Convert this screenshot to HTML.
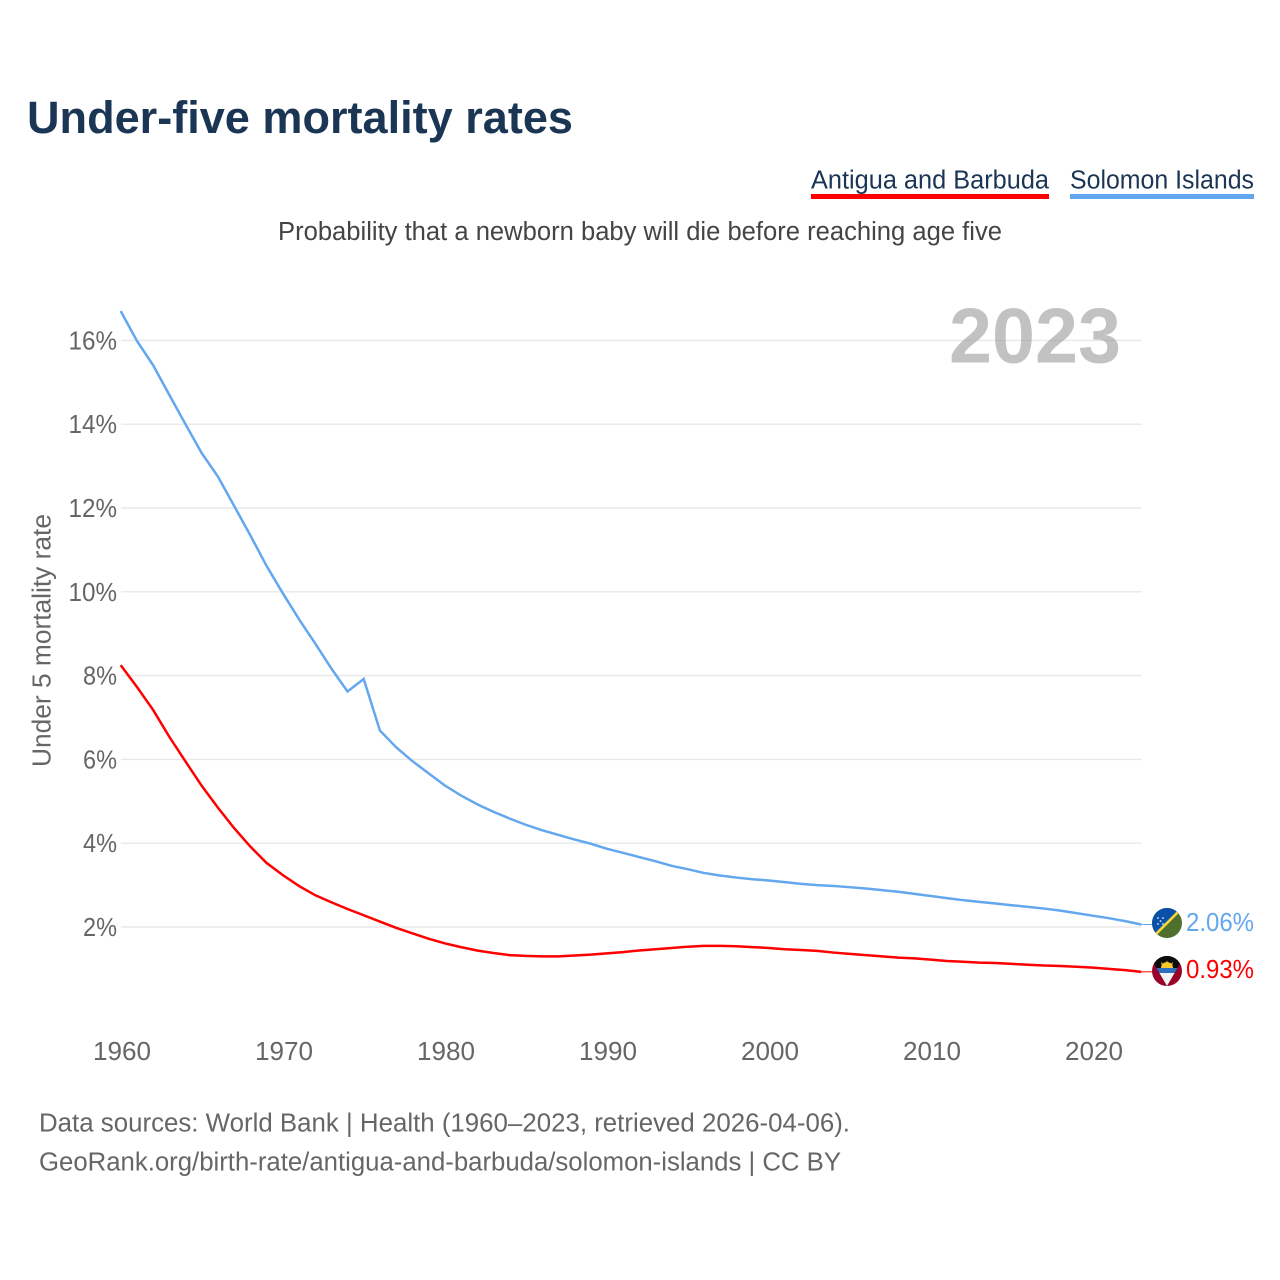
<!DOCTYPE html>
<html lang="en">
<head>
<meta charset="utf-8">
<title>Under-five mortality rates</title>
<style>
html,body{margin:0;padding:0;background:#fff;}
svg{display:block;}
text{font-family:"Liberation Sans",sans-serif;}
</style>
</head>
<body>
<svg id="chart" xmlns="http://www.w3.org/2000/svg" width="1280" height="1280" viewBox="0 0 1280 1280">
  <defs>
    <clipPath id="flag-clip-a"><circle cx="1167" cy="971" r="15"/></clipPath>
    <clipPath id="flag-clip-s"><circle cx="1167" cy="923" r="15"/></clipPath>
  </defs>
  <rect x="0" y="0" width="1280" height="1280" fill="#fff"/>
  <text x="27" y="133" font-size="45" font-weight="700" fill="#1b3555" textLength="546" lengthAdjust="spacingAndGlyphs">Under-five mortality rates</text>

  <text x="811" y="188.5" font-size="25.5" fill="#1b3555" textLength="238" lengthAdjust="spacingAndGlyphs">Antigua and Barbuda</text>
  <rect x="811" y="194" width="238" height="5" fill="#ff0000"/>
  <text x="1070" y="188.5" font-size="25.5" fill="#1b3555" textLength="184" lengthAdjust="spacingAndGlyphs">Solomon Islands</text>
  <rect x="1070" y="194" width="184" height="5" fill="#63a7ee"/>

  <text x="278" y="240" font-size="25.5" fill="#444" textLength="724" lengthAdjust="spacingAndGlyphs">Probability that a newborn baby will die before reaching age five</text>

  <g id="grid"></g>
  <text x="949" y="362.5" font-size="78" font-weight="700" fill="#999" fill-opacity="0.6" textLength="172" lengthAdjust="spacingAndGlyphs">2023</text>
  <g id="y-labels"></g>
  <g id="x-labels"></g>
  <text transform="translate(50.5,767) rotate(-90)" font-size="25.5" fill="#666" textLength="253" lengthAdjust="spacingAndGlyphs">Under 5 mortality rate</text>
  <g id="series"></g>

  <g clip-path="url(#flag-clip-s)">
    <rect x="1152" y="908" width="30" height="30" fill="#4f702d"/>
    <polygon points="1152,908 1182,908 1152,938" fill="#0a50a8"/>
    <line x1="1152" y1="938" x2="1182" y2="908" stroke="#f5d63a" stroke-width="2.6"/>
    <circle cx="1158" cy="918" r="0.9" fill="#dfe8f5"/>
    <circle cx="1163" cy="918" r="0.9" fill="#dfe8f5"/>
    <circle cx="1160.5" cy="921" r="0.9" fill="#dfe8f5"/>
    <circle cx="1158" cy="924" r="0.9" fill="#dfe8f5"/>
    <circle cx="1163" cy="924" r="0.9" fill="#dfe8f5"/>
  </g>
  <g clip-path="url(#flag-clip-a)">
    <rect x="1152" y="956" width="30" height="30" fill="#98032a"/>
    <polygon points="1152,956 1182,956 1181,962 1167,986 1153,962" fill="#0c0c0c"/>
    <path d="M1161 968 a6 6 0 0 1 12 0z" fill="#f5c92c"/>
    <polygon points="1167,960.5 1168.5,964 1165.5,964" fill="#f5c92c"/>
    <polygon points="1161,962 1164,964.5 1162,966" fill="#f5c92c"/>
    <polygon points="1173,962 1170,964.5 1172,966" fill="#f5c92c"/>
    <polygon points="1156.5,968 1177.5,968 1174.6,973 1159.4,973" fill="#2f6fc0"/>
    <polygon points="1159.4,973 1174.6,973 1167,986" fill="#f4f4f4"/>
  </g>

  <text x="1186" y="931" font-size="25.5" fill="#63a7ee" textLength="68" lengthAdjust="spacingAndGlyphs">2.06%</text>
  <text x="1186" y="978" font-size="25.5" fill="#ff0000" textLength="68" lengthAdjust="spacingAndGlyphs">0.93%</text>

  <text x="39" y="1131.5" font-size="25.5" fill="#666" textLength="811" lengthAdjust="spacingAndGlyphs">Data sources: World Bank | Health (1960–2023, retrieved 2026-04-06).</text>
  <text x="39" y="1170.5" font-size="25.5" fill="#666" textLength="802" lengthAdjust="spacingAndGlyphs">GeoRank.org/birth-rate/antigua-and-barbuda/solomon-islands | CC BY</text>
</svg>
<script>
const startYear = 1960;
const yTickValues = [2, 4, 6, 8, 10, 12, 14, 16];
const yTickLabels = ["2%", "4%", "6%", "8%", "10%", "12%", "14%", "16%"];
const xTickValues = [1960, 1970, 1980, 1990, 2000, 2010, 2020];
const xTickLabels = ["1960", "1970", "1980", "1990", "2000", "2010", "2020"];
const solomonValues = [
  16.70, 15.99, 15.41, 14.70, 14.00, 13.31, 12.75, 12.05, 11.35, 10.62,
  9.97, 9.35, 8.77, 8.17, 7.62, 7.92, 6.69, 6.29, 5.96, 5.67,
  5.38, 5.14, 4.93, 4.75, 4.59, 4.44, 4.31, 4.20, 4.09, 3.99,
  3.87, 3.77, 3.67, 3.57, 3.46, 3.38, 3.29, 3.23, 3.18, 3.14,
  3.11, 3.07, 3.03, 3.00, 2.98, 2.95, 2.92, 2.88, 2.84, 2.79,
  2.74, 2.69, 2.64, 2.60, 2.56, 2.52, 2.48, 2.44, 2.39, 2.33,
  2.27, 2.21, 2.14, 2.06
];
const antiguaValues = [
  8.25, 7.73, 7.18, 6.54, 5.95, 5.37, 4.85, 4.36, 3.92, 3.53,
  3.24, 2.98, 2.76, 2.59, 2.43, 2.28, 2.13, 1.98, 1.85, 1.72,
  1.61, 1.52, 1.44, 1.38, 1.33, 1.31, 1.30, 1.30, 1.32, 1.34,
  1.37, 1.40, 1.44, 1.47, 1.50, 1.53, 1.55, 1.55, 1.54, 1.52,
  1.50, 1.47, 1.45, 1.43, 1.39, 1.36, 1.33, 1.30, 1.27, 1.25,
  1.22, 1.19, 1.17, 1.15, 1.14, 1.12, 1.10, 1.08, 1.07, 1.05,
  1.03, 1.00, 0.97, 0.93
];

const SVG_NS = "http://www.w3.org/2000/svg";
function xScale(year) { return 120.7 + (year - 1960) * 16.2; }
function yScale(value) { return 1010.8 - value * 41.9; }

const gridGroup = document.getElementById("grid");
const yLabelGroup = document.getElementById("y-labels");
const xLabelGroup = document.getElementById("x-labels");
const seriesGroup = document.getElementById("series");

yTickValues.forEach(function (value, i) {
  const line = document.createElementNS(SVG_NS, "line");
  
  
  line.setAttribute("x1", 121);
  line.setAttribute("x2", 1141.5);
  line.setAttribute("y1", yScale(value));
  line.setAttribute("y2", yScale(value));
  line.setAttribute("stroke", "#e8e8e8");
  line.setAttribute("stroke-width", "1.4");
  gridGroup.appendChild(line);

  const label = document.createElementNS(SVG_NS, "text");
  
  
  label.setAttribute("x", 117);
  label.setAttribute("y", yScale(value) + 9);
  label.setAttribute("text-anchor", "end");
  label.setAttribute("font-size", "25.5");
  label.setAttribute("fill", "#666");
  label.textContent = yTickLabels[i];
  label.setAttribute("textLength", (yTickLabels[i].length - 1) * 14.5 + 19.5);
  label.setAttribute("lengthAdjust", "spacingAndGlyphs");
  yLabelGroup.appendChild(label);
});

xTickValues.forEach(function (year, i) {
  const label = document.createElementNS(SVG_NS, "text");
  
  
  label.setAttribute("x", xScale(year) + 1.3);
  label.setAttribute("y", 1060);
  label.setAttribute("text-anchor", "middle");
  label.setAttribute("font-size", "25.5");
  label.setAttribute("fill", "#666");
  label.textContent = xTickLabels[i];
  label.setAttribute("textLength", "58");
  label.setAttribute("lengthAdjust", "spacingAndGlyphs");
  xLabelGroup.appendChild(label);
});

function pathFor(values) {
  return values.map(function (value, i) {
    return (i === 0 ? "M" : "L") + xScale(startYear + i).toFixed(2) + " " + yScale(value).toFixed(2);
  }).join(" ");
}

const solomonLine = document.createElementNS(SVG_NS, "path");


solomonLine.setAttribute("d", pathFor(solomonValues));
solomonLine.setAttribute("fill", "none");
solomonLine.setAttribute("stroke", "#63a7ee");
solomonLine.setAttribute("stroke-width", "2.5");
solomonLine.setAttribute("stroke-linejoin", "miter");
seriesGroup.appendChild(solomonLine);

const antiguaLine = document.createElementNS(SVG_NS, "path");


antiguaLine.setAttribute("d", pathFor(antiguaValues));
antiguaLine.setAttribute("fill", "none");
antiguaLine.setAttribute("stroke", "#ff0000");
antiguaLine.setAttribute("stroke-width", "2.5");
seriesGroup.appendChild(antiguaLine);

const lastSolomon = solomonValues[solomonValues.length - 1];
const solomonLeader = document.createElementNS(SVG_NS, "line");


solomonLeader.setAttribute("x1", xScale(startYear + solomonValues.length - 1));
solomonLeader.setAttribute("x2", 1152);
solomonLeader.setAttribute("y1", yScale(lastSolomon));
solomonLeader.setAttribute("y2", yScale(lastSolomon));
solomonLeader.setAttribute("stroke", "#63a7ee");
solomonLeader.setAttribute("stroke-width", "1");
seriesGroup.appendChild(solomonLeader);

const lastAntigua = antiguaValues[antiguaValues.length - 1];
const antiguaLeader = document.createElementNS(SVG_NS, "line");


antiguaLeader.setAttribute("x1", xScale(startYear + antiguaValues.length - 1));
antiguaLeader.setAttribute("x2", 1152);
antiguaLeader.setAttribute("y1", yScale(lastAntigua));
antiguaLeader.setAttribute("y2", yScale(lastAntigua));
antiguaLeader.setAttribute("stroke", "#ff0000");
antiguaLeader.setAttribute("stroke-width", "1");
seriesGroup.appendChild(antiguaLeader);
</script>
</body>
</html>
